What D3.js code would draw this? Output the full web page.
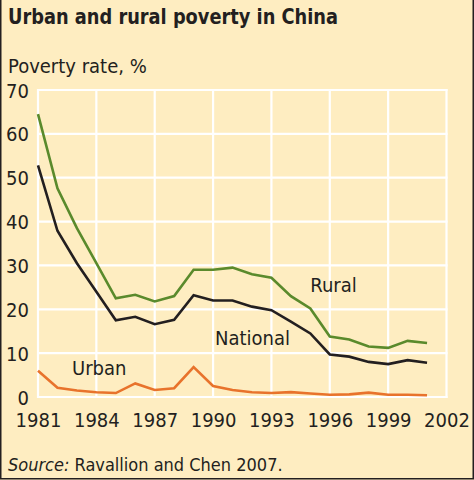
<!DOCTYPE html>
<html><head><meta charset="utf-8">
<script src="https://cdn.jsdelivr.net/npm/d3@7"></script>
<style>
html,body{margin:0;padding:0;background:#fff;}
svg{display:block;}
text{font-family:"Liberation Sans Narrow","DejaVu Sans Condensed","Arial Narrow",sans-serif;fill:#231f20;}
</style></head><body>
<svg id="c" width="474" height="480"></svg>
<script>
const years = d3.range(1981, 2002);
const rural = [64.5,47.6,38.5,30.5,22.5,23.3,21.8,23.0,29.0,29.0,29.5,28.0,27.2,23.0,20.2,13.8,13.1,11.5,11.2,12.8,12.3];
const national = [52.8,37.9,30.5,24.0,17.5,18.3,16.6,17.6,23.2,22.0,22.0,20.6,19.8,17.2,14.5,9.7,9.2,8.0,7.5,8.4,7.8];
const urban = [6.0,2.1,1.5,1.1,0.9,3.1,1.6,2.0,6.8,2.5,1.6,1.1,0.9,1.1,0.8,0.5,0.6,1.0,0.5,0.5,0.4];
const xTicks = [1981,1984,1987,1990,1993,1996,1999,2002];
const yTicks = [0,10,20,30,40,50,60,70];
const seriesNames = ["Rural","National","Urban"];
const labelAnchors = [[1995.0,23.9],[1990.1,11.9],[1982.75,5.0]];
const colors = ["#5a8a2c","#231f20","#e8732c"];

const svg = d3.select("#c");
svg.append("rect").attr("x",0).attr("y",0).attr("width",474).attr("height",480).attr("fill","#feedc1");
svg.append("path").attr("d","M0.75,0V478.75H473.25V0").attr("fill","none").attr("stroke","#231f20").attr("stroke-width",1.5);

const x = d3.scaleLinear().domain([1981,2002]).range([38,446.5]);
const y = d3.scaleLinear().domain([0,70]).range([397,90]);

const g = svg.append("g");
g.selectAll("line.v").data(xTicks).join("line")
  .attr("x1",d=>x(d)).attr("x2",d=>x(d)).attr("y1",y(70)-1).attr("y2",y(0)+1)
  .attr("stroke","#fff").attr("stroke-width",2.2);
g.selectAll("line.h").data(yTicks).join("line")
  .attr("x1",x(1981)-1).attr("x2",x(2002)+1).attr("y1",d=>y(d)).attr("y2",d=>y(d))
  .attr("stroke","#fff").attr("stroke-width",2.2);

const yAxis = svg.append("g").attr("transform","translate(29,0)")
  .call(d3.axisLeft(y).tickValues(yTicks).tickSize(0).tickPadding(0).tickFormat(d3.format("d")));
yAxis.select(".domain").remove();
yAxis.selectAll("text").attr("font-size",20).attr("font-family",null).attr("dy","0.35em").attr("fill","#231f20");

const xAxis = svg.append("g").attr("transform","translate(0,413)")
  .call(d3.axisBottom(x).tickValues(xTicks).tickSize(0).tickPadding(0).tickFormat(d3.format("d")));
xAxis.select(".domain").remove();
xAxis.selectAll("text").attr("font-size",20).attr("font-family",null).attr("dy","0.72em").attr("fill","#231f20");

const line = d3.line().x((d,i)=>x(years[i])).y(d=>y(d));
[rural,national,urban].forEach((s,k)=>{
  svg.append("path").datum(s).attr("d",line).attr("fill","none")
    .attr("stroke",colors[k]).attr("stroke-width",2.6).attr("stroke-linejoin","miter");
});

svg.selectAll("text.lab").data(seriesNames).join("text").attr("class","lab")
  .attr("x",(d,i)=>x(labelAnchors[i][0])).attr("y",(d,i)=>y(labelAnchors[i][1]))
  .attr("font-size",20).text(d=>d);

svg.append("text").attr("x",8).attr("y",24).attr("font-size",22).attr("font-weight","bold")
  .attr("textLength",330).attr("lengthAdjust","spacingAndGlyphs").text("Urban and rural poverty in China");
svg.append("text").attr("x",8).attr("y",73).attr("font-size",20).text("Poverty rate, %");
const src = svg.append("text").attr("x",8).attr("y",471).attr("font-size",18);
src.append("tspan").attr("font-style","italic").text("Source:");
src.append("tspan").text(" Ravallion and Chen 2007.");
</script></body></html>
